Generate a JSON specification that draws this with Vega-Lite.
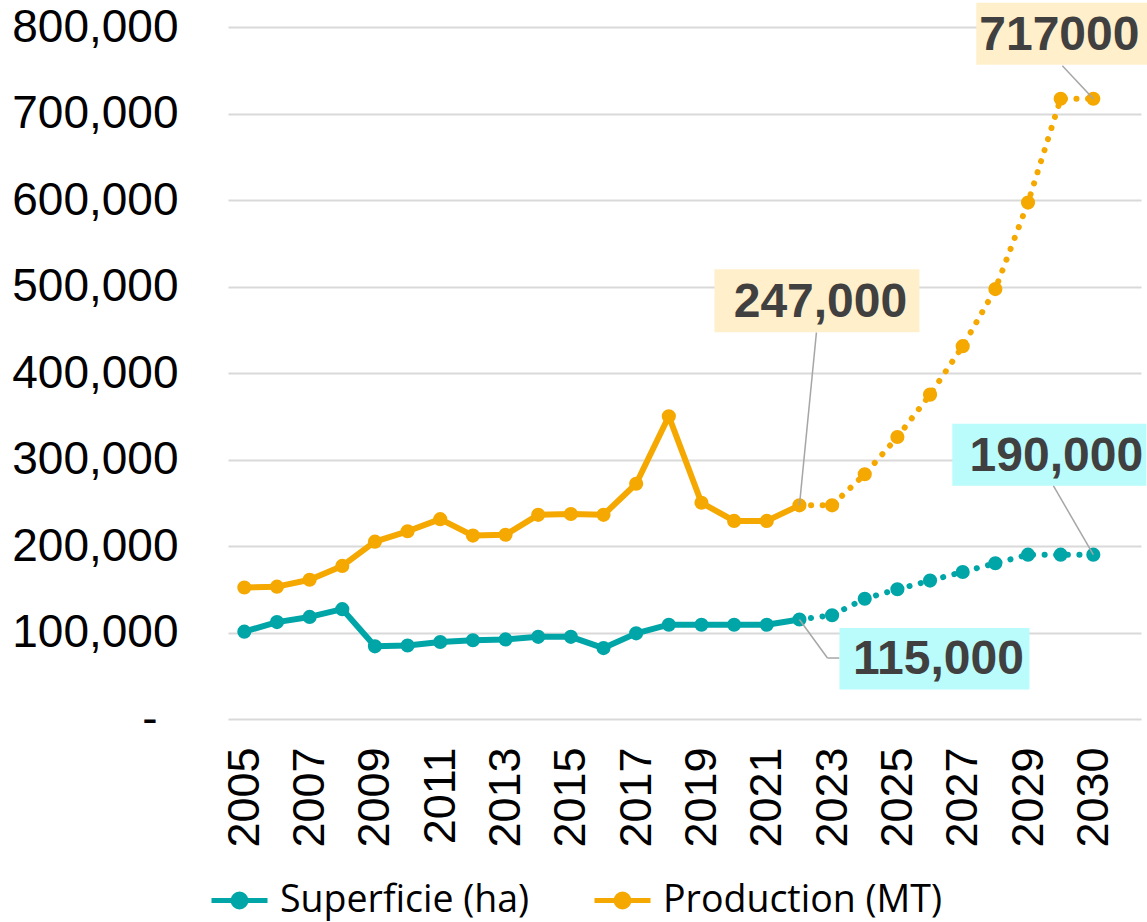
{
  "$schema": "https://vega.github.io/schema/vega-lite/v6.json",
  "width": 913,
  "height": 692,
  "autosize": "none",
  "padding": {"left": 228, "top": 27, "right": 6, "bottom": 203},
  "background": "#ffffff",
  "config": {
    "font": "Liberation Sans",
    "view": {"stroke": null},
    "axis": {"labelFont": "Liberation Sans", "labelColor": "#000000"}
  },
  "datasets": {
    "main": [
      {"year": "2005", "series": "Superficie (ha)", "value": 101000},
      {"year": "2006", "series": "Superficie (ha)", "value": 112000},
      {"year": "2007", "series": "Superficie (ha)", "value": 118000},
      {"year": "2008", "series": "Superficie (ha)", "value": 127000},
      {"year": "2009", "series": "Superficie (ha)", "value": 84000},
      {"year": "2010", "series": "Superficie (ha)", "value": 85000},
      {"year": "2011", "series": "Superficie (ha)", "value": 89000},
      {"year": "2012", "series": "Superficie (ha)", "value": 91000},
      {"year": "2013", "series": "Superficie (ha)", "value": 92000},
      {"year": "2014", "series": "Superficie (ha)", "value": 95000},
      {"year": "2015", "series": "Superficie (ha)", "value": 95000},
      {"year": "2016", "series": "Superficie (ha)", "value": 82000},
      {"year": "2017", "series": "Superficie (ha)", "value": 99000},
      {"year": "2018", "series": "Superficie (ha)", "value": 109000},
      {"year": "2019", "series": "Superficie (ha)", "value": 109000},
      {"year": "2020", "series": "Superficie (ha)", "value": 109000},
      {"year": "2021", "series": "Superficie (ha)", "value": 109000},
      {"year": "2022", "series": "Superficie (ha)", "value": 115000},
      {"year": "2023", "series": "Superficie (ha)", "value": 120000},
      {"year": "2024", "series": "Superficie (ha)", "value": 139000},
      {"year": "2025", "series": "Superficie (ha)", "value": 150000},
      {"year": "2026", "series": "Superficie (ha)", "value": 160000},
      {"year": "2027", "series": "Superficie (ha)", "value": 170000},
      {"year": "2028", "series": "Superficie (ha)", "value": 180000},
      {"year": "2029", "series": "Superficie (ha)", "value": 190000},
      {"year": "2030", "series": "Superficie (ha)", "value": 190000},
      {"year": "2030 ", "series": "Superficie (ha)", "value": 190000},
      {"year": "2005", "series": "Production (MT)", "value": 152000},
      {"year": "2006", "series": "Production (MT)", "value": 153000},
      {"year": "2007", "series": "Production (MT)", "value": 161000},
      {"year": "2008", "series": "Production (MT)", "value": 177000},
      {"year": "2009", "series": "Production (MT)", "value": 205000},
      {"year": "2010", "series": "Production (MT)", "value": 217000},
      {"year": "2011", "series": "Production (MT)", "value": 231000},
      {"year": "2012", "series": "Production (MT)", "value": 212000},
      {"year": "2013", "series": "Production (MT)", "value": 213000},
      {"year": "2014", "series": "Production (MT)", "value": 236000},
      {"year": "2015", "series": "Production (MT)", "value": 237000},
      {"year": "2016", "series": "Production (MT)", "value": 236000},
      {"year": "2017", "series": "Production (MT)", "value": 272000},
      {"year": "2018", "series": "Production (MT)", "value": 350000},
      {"year": "2019", "series": "Production (MT)", "value": 250000},
      {"year": "2020", "series": "Production (MT)", "value": 229000},
      {"year": "2021", "series": "Production (MT)", "value": 229000},
      {"year": "2022", "series": "Production (MT)", "value": 247000},
      {"year": "2023", "series": "Production (MT)", "value": 247000},
      {"year": "2024", "series": "Production (MT)", "value": 283000},
      {"year": "2025", "series": "Production (MT)", "value": 326000},
      {"year": "2026", "series": "Production (MT)", "value": 375000},
      {"year": "2027", "series": "Production (MT)", "value": 431000},
      {"year": "2028", "series": "Production (MT)", "value": 497000},
      {"year": "2029", "series": "Production (MT)", "value": 597000},
      {"year": "2030", "series": "Production (MT)", "value": 717000},
      {"year": "2030 ", "series": "Production (MT)", "value": 717000}
    ]
  },
  "encoding": {
    "x": {
      "field": "year",
      "type": "ordinal",
      "scale": {"type": "point", "padding": 0.98, "align": 0.255},
      "axis": {
        "title": null,
        "values": ["2005", "2007", "2009", "2011", "2013", "2015", "2017", "2019", "2021", "2023", "2025", "2027", "2029", "2030 "],
        "labelExpr": "trim(datum.label)",
        "labelAngle": -90,
        "labelAlign": "right",
        "labelBaseline": "middle",
        "labelFontSize": 45,
        "labelPadding": 28,
        "ticks": false,
        "domain": false,
        "grid": false
      }
    },
    "y": {
      "field": "value",
      "type": "quantitative",
      "scale": {"domain": [0, 800000], "nice": false, "zero": true},
      "axis": {
        "title": null,
        "values": [0, 100000, 200000, 300000, 400000, 500000, 600000, 700000, 800000],
        "labelExpr": "datum.value == 0 ? '-' : format(datum.value, ',')",
        "labelFontSize": 46,
        "labelPadding": {"condition": {"test": "datum.value == 0", "value": 71}, "value": 50},
        "ticks": false,
        "domain": false,
        "grid": true,
        "gridColor": "#d9d9d9",
        "gridWidth": 2
      }
    }
  },
  "layer": [
    {
      "data": {"name": "main"},
      "transform": [{"filter": "datum.year <= '2022'"}],
      "mark": {"type": "line", "strokeWidth": 6, "strokeJoin": "round", "strokeCap": "round"},
      "encoding": {
        "color": {
          "field": "series",
          "type": "nominal",
          "scale": {"domain": ["Superficie (ha)", "Production (MT)"], "range": ["#00A5A8", "#F5A800"]},
          "legend": {
            "title": null,
            "orient": "none",
            "direction": "horizontal",
            "legendX": -19,
            "legendY": 843,
            "symbolType": "M-1,0H1M-0.23,0A0.23,0.23,0,1,1,0.23,0A0.23,0.23,0,1,1,-0.23,0Z",
            "symbolSize": 3136,
            "symbolStrokeWidth": 5,
            "labelFont": "Open Sans",
            "labelFontSize": 37.5,
            "labelColor": "#000000",
            "labelLimit": 500,
            "labelOffset": 10,
            "columnPadding": 54,
            "padding": 0,
            "symbolOpacity": 1,
            "encode": {
              "symbols": {
                "update": {
                  "fill": {"scale": "color", "field": "value"},
                  "stroke": {"scale": "color", "field": "value"},
                  "opacity": {"value": 1}
                }
              }
            }
          }
        }
      }
    },
    {
      "data": {"name": "main"},
      "transform": [{"filter": "datum.year >= '2022'"}],
      "mark": {"type": "line", "strokeWidth": 6, "strokeDash": [0.1, 11.5], "strokeCap": "round"},
      "encoding": {"color": {"field": "series", "type": "nominal"}}
    },
    {
      "data": {"name": "main"},
      "mark": {"type": "circle", "size": 200, "opacity": 1},
      "encoding": {"color": {"field": "series", "type": "nominal"}}
    },
    {
      "data": {"values": [{"year": "2022", "value": 247000, "label": "247,000"}]},
      "layer": [
        {"mark": {"type": "rule", "color": "#a6a6a6", "strokeWidth": 1.5, "x2Offset": 17, "y2Offset": -173}, "encoding": {"x2": {"field": "year"}, "y2": {"field": "value"}}},
        {"mark": {"type": "rect", "color": "#FFEFCB", "xOffset": -85, "x2Offset": 120, "yOffset": -236, "y2Offset": -173}, "encoding": {"x2": {"field": "year"}, "y2": {"field": "value"}}},
        {"mark": {"type": "text", "dx": 21, "dy": -188, "align": "center", "baseline": "alphabetic", "fontSize": 48, "fontWeight": "bold", "font": "Liberation Sans", "color": "#404040"}, "encoding": {"text": {"field": "label"}}}
      ]
    },
    {
      "data": {"values": [{"year": "2030 ", "value": 717000, "label": "717000"}]},
      "layer": [
        {"mark": {"type": "rule", "color": "#a6a6a6", "strokeWidth": 1.5, "x2Offset": -31, "y2Offset": -33}, "encoding": {"x2": {"field": "year"}, "y2": {"field": "value"}}},
        {"mark": {"type": "rect", "color": "#FFEFCB", "xOffset": -117, "x2Offset": 55, "yOffset": -96, "y2Offset": -34}, "encoding": {"x2": {"field": "year"}, "y2": {"field": "value"}}},
        {"mark": {"type": "text", "dx": -34, "dy": -49, "align": "center", "baseline": "alphabetic", "fontSize": 48, "fontWeight": "bold", "font": "Liberation Sans", "color": "#404040"}, "encoding": {"text": {"field": "label"}}}
      ]
    },
    {
      "data": {"values": [{"year": "2030 ", "value": 190000, "label": "190,000"}]},
      "layer": [
        {"mark": {"type": "rule", "color": "#a6a6a6", "strokeWidth": 1.5, "x2Offset": -40, "y2Offset": -69}, "encoding": {"x2": {"field": "year"}, "y2": {"field": "value"}}},
        {"mark": {"type": "rect", "color": "#BAFBFC", "xOffset": -141, "x2Offset": 53, "yOffset": -131, "y2Offset": -69}, "encoding": {"x2": {"field": "year"}, "y2": {"field": "value"}}},
        {"mark": {"type": "text", "dx": -37, "dy": -84, "align": "center", "baseline": "alphabetic", "fontSize": 48, "fontWeight": "bold", "font": "Liberation Sans", "color": "#404040"}, "encoding": {"text": {"field": "label"}}}
      ]
    },
    {
      "data": {"values": [{"year": "2022", "value": 115000, "label": "115,000"}]},
      "layer": [
        {"mark": {"type": "rule", "color": "#a6a6a6", "strokeWidth": 1.5, "x2Offset": 28, "y2Offset": 38.5}, "encoding": {"x2": {"field": "year"}, "y2": {"field": "value"}}},
        {"mark": {"type": "rule", "color": "#a6a6a6", "strokeWidth": 1.5, "xOffset": 28, "yOffset": 38.5, "x2Offset": 40, "y2Offset": 38.5}, "encoding": {"x2": {"field": "year"}, "y2": {"field": "value"}}},
        {"mark": {"type": "rect", "color": "#BAFBFC", "xOffset": 40, "x2Offset": 230, "yOffset": 8.5, "y2Offset": 70}, "encoding": {"x2": {"field": "year"}, "y2": {"field": "value"}}},
        {"mark": {"type": "text", "dx": 139, "dy": 54, "align": "center", "baseline": "alphabetic", "fontSize": 48, "fontWeight": "bold", "font": "Liberation Sans", "color": "#404040"}, "encoding": {"text": {"field": "label"}}}
      ]
    }
  ]
}
